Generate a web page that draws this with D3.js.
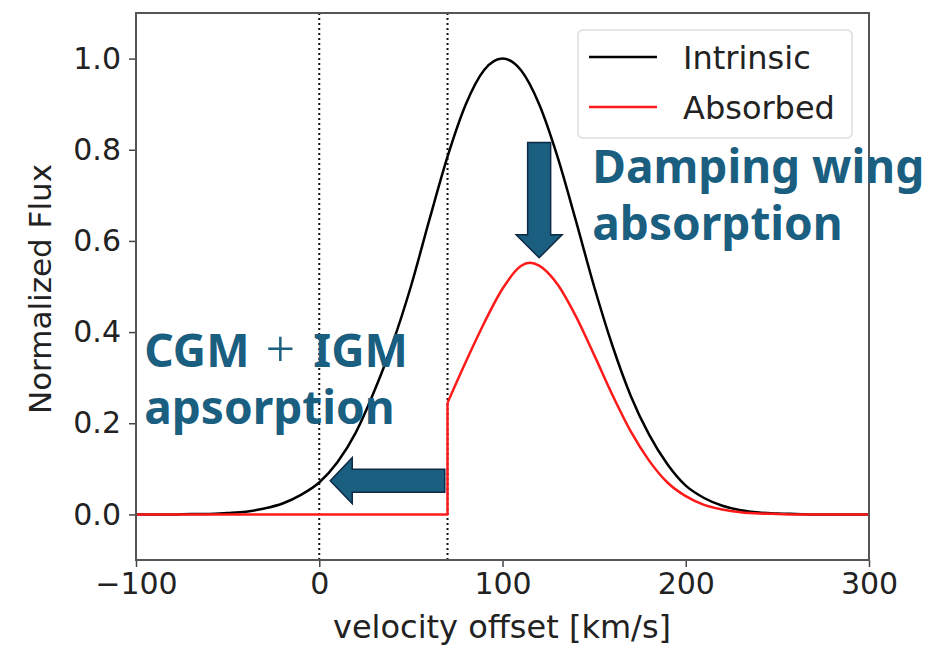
<!DOCTYPE html>
<html>
<head>
<meta charset="utf-8">
<script src="https://cdn.jsdelivr.net/npm/d3@7"></script>
<style>
  body { margin: 0; background: #fff; }
  svg text { font-family: "DejaVu Sans", sans-serif; }
</style>
</head>
<body>
<svg id="chart" width="933" height="651"></svg>
<script>
// values
const velocity = [-100, -90, -80, -70, -60, -50, -40, -30, -20, -10, 0, 10, 20, 30, 40, 50, 60, 70, 80, 90,
  100, 110, 120, 130, 140, 150, 160, 170, 180, 190, 200, 210, 220, 230, 240, 250, 260, 270, 280, 290, 300];
const intrinsic = [0, 0, 0, 0.001, 0.001, 0.003, 0.006, 0.013, 0.024, 0.043, 0.07, 0.115, 0.18, 0.27, 0.375, 0.5, 0.645, 0.785, 0.9, 0.975,
  1.0, 0.975, 0.9, 0.785, 0.645, 0.5, 0.37, 0.26, 0.175, 0.11, 0.063, 0.036, 0.019, 0.009, 0.004, 0.002, 0.001, 0, 0, 0, 0];

const absorbedV = [-100, -50, 0, 50, 70, 70, 80, 90, 100, 110, 115, 120, 130, 140, 150, 160, 170, 180, 190,
  200, 210, 220, 230, 240, 250, 260, 280, 300];
const absorbed = [0, 0, 0, 0, 0, 0.245, 0.335, 0.42, 0.495, 0.545, 0.552, 0.546, 0.505, 0.435, 0.35, 0.262, 0.182, 0.118, 0.07,
  0.04, 0.021, 0.011, 0.005, 0.002, 0.001, 0, 0, 0];

const markers = [0, 70];
const xTicks = [-100, 0, 100, 200, 300];
const yTicks = [0.0, 0.2, 0.4, 0.6, 0.8, 1.0];
const legendItems = [
  { label: "Intrinsic", color: "#000000" },
  { label: "Absorbed", color: "#ff1a1a" },
];

const width = 933, height = 651;
const margin = { top: 13, right: 64, bottom: 91, left: 136 };
const annotColor = "#1a5e80";

const svg = d3.select("#chart");

const x = d3.scaleLinear().domain([-100, 300]).range([margin.left, width - margin.right]);
const y = d3.scaleLinear().domain([-0.1, 1.1]).range([height - margin.bottom, margin.top]);

// dotted markers
svg.append("g")
  .selectAll("line")
  .data(markers)
  .join("line")
  .attr("x1", (d) => x(d))
  .attr("x2", (d) => x(d))
  .attr("y1", margin.top)
  .attr("y2", height - margin.bottom)
  .attr("stroke", "#111")
  .attr("stroke-width", 2)
  .attr("stroke-dasharray", "2,3");

const smooth = d3.line().curve(d3.curveMonotoneX);
const straight = d3.line();

svg.append("path")
  .attr("d", smooth(velocity.map((v, i) => [x(v), y(intrinsic[i])])))
  .attr("fill", "none")
  .attr("stroke", "#000")
  .attr("stroke-width", 2.5);

// absorbed: flat part + jump drawn straight, the rest smoothed
const redPts = absorbedV.map((v, i) => [x(v), y(absorbed[i])]);
const jump = absorbedV.indexOf(70) + 1;
const red = svg.append("g")
  .attr("fill", "none")
  .attr("stroke", "#ff1a1a")
  .attr("stroke-width", 2.5)
  .attr("stroke-linejoin", "round");
red.append("path").attr("d", straight(redPts.slice(0, jump + 1)));
red.append("path").attr("d", smooth(redPts.slice(jump)));

// axes
const xAxis = svg.append("g")
  .attr("transform", `translate(0,${height - margin.bottom})`)
  .call(d3.axisBottom(x).tickValues(xTicks).tickSize(7).tickPadding(6)
    .tickFormat((d) => (d < 0 ? "\u2212" + Math.abs(d) : d)));
const yAxis = svg.append("g")
  .attr("transform", `translate(${margin.left},0)`)
  .call(d3.axisLeft(y).tickValues(yTicks).tickSize(7).tickPadding(8).tickFormat(d3.format(".1f")));

[xAxis, yAxis].forEach((g) => {
  g.select(".domain").remove();
  g.selectAll(".tick line").attr("stroke", "#444").attr("stroke-width", 1.5);
  g.selectAll(".tick text").attr("fill", "#222").style("font-size", "30px");
});

// frame
svg.append("rect")
  .attr("x", margin.left)
  .attr("y", margin.top)
  .attr("width", width - margin.left - margin.right)
  .attr("height", height - margin.top - margin.bottom)
  .attr("fill", "none")
  .attr("stroke", "#555")
  .attr("stroke-width", 2);

svg.append("text")
  .attr("x", 502)
  .attr("y", 638)
  .attr("text-anchor", "middle")
  .attr("fill", "#222")
  .style("font-size", "32px")
  .text("velocity offset [km/s]");

svg.append("text")
  .attr("transform", `translate(51,289) rotate(-90)`)
  .attr("text-anchor", "middle")
  .attr("fill", "#222")
  .style("font-size", "31px")
  .text("Normalized Flux");

// legend
const legend = svg.append("g").attr("transform", `translate(${width - margin.right - 291},30)`);
legend.append("rect")
  .attr("width", 274)
  .attr("height", 108)
  .attr("rx", 5)
  .attr("fill", "#fff")
  .attr("stroke", "#ddd")
  .attr("stroke-width", 1.5);
legendItems.forEach((item, i) => {
  const gy = 27 + i * 50;
  legend.append("line")
    .attr("x1", 11).attr("x2", 79)
    .attr("y1", gy).attr("y2", gy)
    .attr("stroke", item.color)
    .attr("stroke-width", 2.5);
  legend.append("text")
    .attr("x", 105)
    .attr("y", gy + 12)
    .attr("fill", "#222")
    .style("font-size", "32px")
    .text(item.label);
});

// annotations
function annot(vx, vy) {
  return svg.append("text")
    .attr("x", x(vx))
    .attr("y", y(vy))
    .attr("fill", annotColor)
    .style("font-family", "'Noto Sans', 'Open Sans', sans-serif")
    .style("font-weight", "bold")
    .style("font-size", "46px");
}
const damp = annot(149, 0.727);
damp.append("tspan").text("Damping wing");
damp.append("tspan").attr("x", x(149)).attr("dy", 57).text("absorption");

const cgm = annot(-95.5, 0.323);
cgm.append("tspan").text("CGM");
cgm.append("tspan").attr("dx", 16).style("font-weight", 300).style("font-size", "52px").text("+");
cgm.append("tspan").attr("dx", 18).text("IGM");
cgm.append("tspan").attr("x", x(-95.5)).attr("dy", 57).text("apsorption");

// block arrows
const arrowPath = (pts) => "M" + pts.map((p) => p.join(",")).join("L") + "Z";

// down arrow
{
  const cx = x(120), top = y(0.816), tip = y(0.563);
  const sw = 11.5, hw = 23, hl = 23;
  svg.append("path")
    .attr("d", arrowPath([
      [cx - sw, top], [cx + sw, top], [cx + sw, tip - hl], [cx + hw, tip - hl],
      [cx, tip], [cx - hw, tip - hl], [cx - sw, tip - hl],
    ]))
    .attr("fill", annotColor)
    .attr("stroke", "#0e2a44")
    .attr("stroke-width", 1.5);
}
// left arrow
{
  const cy = y(0.074), tip = x(6), tail = x(68.5);
  const sw = 11.5, hw = 23, hl = 22;
  svg.append("path")
    .attr("d", arrowPath([
      [tail, cy - sw], [tail, cy + sw], [tip + hl, cy + sw], [tip + hl, cy + hw],
      [tip, cy], [tip + hl, cy - hw], [tip + hl, cy - sw],
    ]))
    .attr("fill", annotColor)
    .attr("stroke", "#0e2a44")
    .attr("stroke-width", 1.5);
}
</script>
</body>
</html>
